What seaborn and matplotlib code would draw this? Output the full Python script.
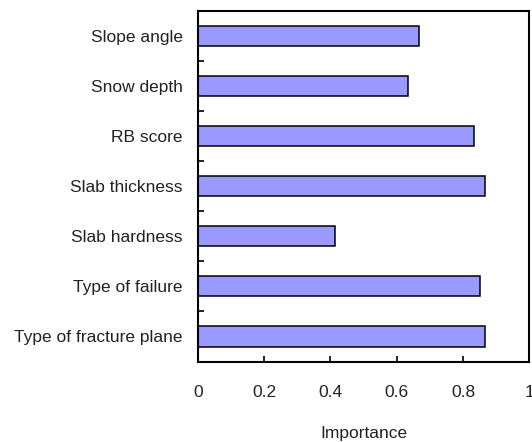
import matplotlib
matplotlib.use("Agg")
import matplotlib.pyplot as plt
import numpy as np
import pandas as pd
import seaborn as sns

features = [
    "Slope angle",
    "Snow depth",
    "RB score",
    "Slab thickness",
    "Slab hardness",
    "Type of failure",
    "Type of fracture plane",
]
importance = [0.667, 0.633, 0.833, 0.865, 0.415, 0.85, 0.865]

df = pd.DataFrame({"feature": features, "importance": importance})

sns.set_style("white")
plt.rcParams["font.family"] = ["Liberation Sans", "DejaVu Sans"]

fig = plt.figure(figsize=(5.32, 4.42), dpi=100)
ax = fig.add_axes([0.372, 0.182, 0.623, 0.794])

sns.barplot(
    data=df,
    x="importance",
    y="feature",
    orient="h",
    color="#9999FF",
    saturation=1,
    edgecolor="black",
    linewidth=1.1,
    width=0.4,
    ax=ax,
)

fs = 12.5
ax.set_xlim(0, 1)
ax.set_ylim(len(features) - 0.5, -0.5)
ax.set_xticks([0, 0.2, 0.4, 0.6, 0.8, 1])
ax.set_xticklabels(["0", "0.2", "0.4", "0.6", "0.8", "1"])
ax.tick_params(axis="x", bottom=True, direction="in", length=4, width=1.2,
               pad=17, labelsize=fs, colors="black", labelcolor="#222222")
ax.tick_params(axis="y", which="major", left=True, length=0, pad=11,
               labelsize=fs, labelcolor="#222222")
ax.set_yticks(np.arange(len(features)) + 0.5, minor=True)
ax.tick_params(axis="y", which="minor", left=True, direction="in",
               length=4, width=1.2, color="black")

for s in ax.spines.values():
    s.set_visible(True)
    s.set_color("black")
    s.set_linewidth(1.5)

ax.set_ylabel("")
ax.set_xlabel("Importance", fontsize=fs, labelpad=18.5, color="#222222")

fig.savefig("out.png", dpi=100)
